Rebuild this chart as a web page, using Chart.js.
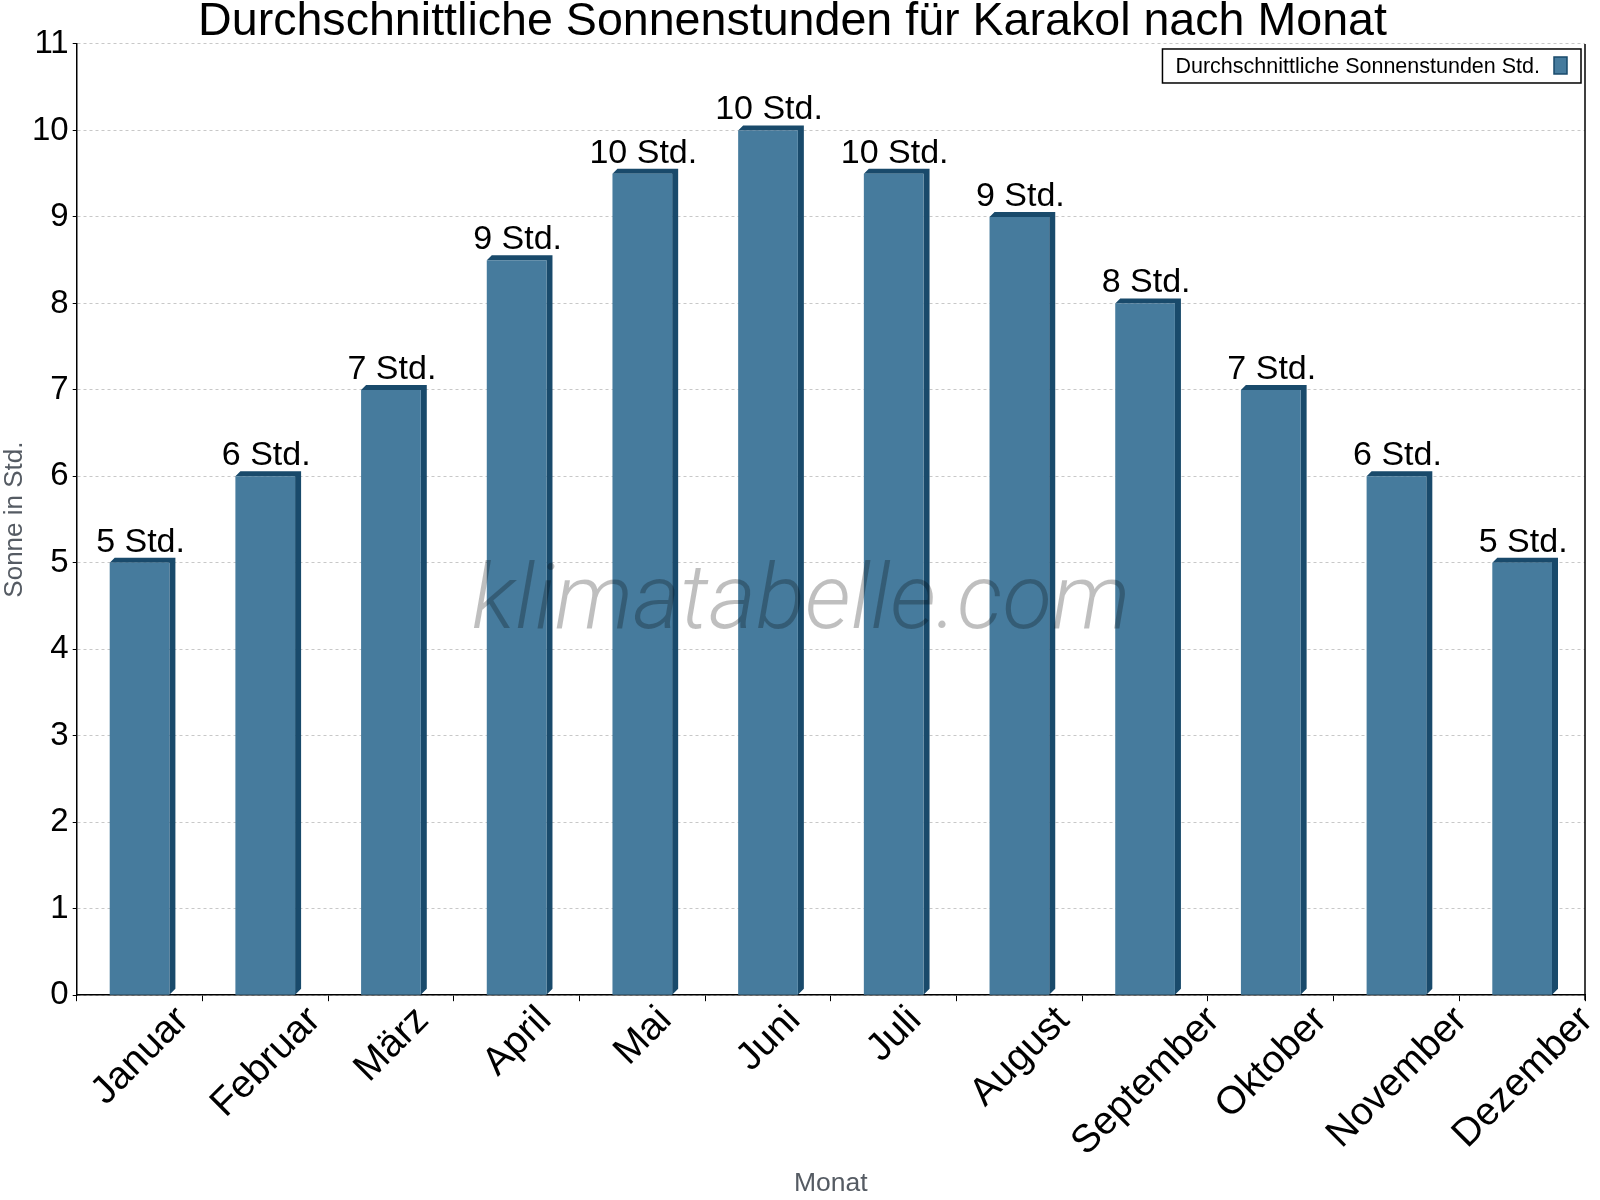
<!DOCTYPE html>
<html>
<head>
<meta charset="utf-8">
<title>Sonnenstunden Karakol</title>
<script src="https://cdn.jsdelivr.net/npm/chart.js@4.4.1/dist/chart.umd.min.js"></script>
<style>
    body { margin: 0; background: #ffffff; }
    canvas { display: block; }
</style>
</head>
<body>
<canvas id="sunChart" width="1600" height="1200"></canvas>
<script>
// Daten
const months = ["Januar", "Februar", "März", "April", "Mai", "Juni",
    "Juli", "August", "September", "Oktober", "November", "Dezember"];
const sunHours = [5, 6, 7, 8.5, 9.5, 10, 9.5, 9, 8, 7, 6, 5];
const yTicks = [0, 1, 2, 3, 4, 5, 6, 7, 8, 9, 10, 11];
const unitText = "Std.";
const seriesLabel = "Durchschnittliche Sonnenstunden Std.";
const chartTitle = "Durchschnittliche Sonnenstunden für Karakol nach Monat";
const watermarkText = "klimatabelle.com";

const FONT = "'Liberation Sans', Arial, sans-serif";
const barFront = "#467b9d";
const barDark = "#194a6b";
const axisGrey = "#555b63";

// 3D-Kante (oben + rechts) hinter jedem Balken
const barDepthPlugin = {
    id: "barDepth",
    beforeDatasetsDraw(chart) {
        const ctx = chart.ctx;
        const meta = chart.getDatasetMeta(0);
        ctx.save();
        ctx.fillStyle = barDark;
        meta.data.forEach(el => {
            const p = el.getProps(["x", "y", "base", "width"], true);
            const left = p.x - p.width / 2;
            const right = p.x + p.width / 2;
            ctx.beginPath();
            ctx.moveTo(left, p.y);
            ctx.lineTo(left + 5, p.y - 5);
            ctx.lineTo(right + 6, p.y - 5);
            ctx.lineTo(right + 6, p.base - 6);
            ctx.lineTo(right, p.base);
            ctx.lineTo(right, p.y);
            ctx.closePath();
            ctx.fill();
        });
        ctx.restore();
    },
    afterDatasetsDraw(chart) {
        const ctx = chart.ctx;
        const area = chart.chartArea;
        const meta = chart.getDatasetMeta(0);
        const xScale = chart.scales.x;

        ctx.save();

        // Wasserzeichen
        ctx.font = "italic 300 91px Roboto, 'Open Sans', sans-serif";
        ctx.fillStyle = "rgba(0, 0, 0, 0.25)";
        ctx.textAlign = "center";
        ctx.textBaseline = "alphabetic";
        ctx.fillText(watermarkText, chart.width / 2 + 1, 628);

        // Werte über den Balken
        ctx.font = "34px " + FONT;
        ctx.fillStyle = "#000000";
        meta.data.forEach((el, i) => {
            const p = el.getProps(["x", "y"], true);
            ctx.fillText(Math.round(sunHours[i]) + " " + unitText, p.x + 1, p.y - 11);
        });

        // Monatsnamen, gedreht und mittig unter dem Tick
        const labelSize = 39;
        ctx.font = labelSize + "px " + FONT;
        ctx.textBaseline = "middle";
        months.forEach((m, i) => {
            const x = xScale.getPixelForTick(i) + 1;
            const w = ctx.measureText(m).width;
            const h = 0.707 * (w + 0.72 * labelSize);
            const y = area.bottom + 9 + h / 2;
            ctx.save();
            ctx.translate(x, y);
            ctx.rotate(-Math.PI / 4);
            ctx.fillText(m, 0, 0);
            ctx.restore();
        });

        // rechte Achsenlinie
        ctx.strokeStyle = "#000000";
        ctx.lineWidth = 1.5;
        ctx.beginPath();
        ctx.moveTo(area.right, area.top);
        ctx.lineTo(area.right, area.bottom + 5);
        ctx.stroke();

        // Legende
        ctx.font = "21.5px " + FONT;
        ctx.textAlign = "right";
        ctx.textBaseline = "alphabetic";
        const boxRight = area.right - 4;
        const boxTop = area.top + 5;
        const swRight = boxRight - 14;
        const textRight = swRight - 13 - 14;
        const textW = ctx.measureText(seriesLabel).width;
        const boxLeft = textRight - textW - 13;
        ctx.fillStyle = "#ffffff";
        ctx.fillRect(boxLeft, boxTop, boxRight - boxLeft, 34);
        ctx.strokeRect(boxLeft, boxTop, boxRight - boxLeft, 34);
        ctx.fillStyle = "#000000";
        ctx.fillText(seriesLabel, textRight, boxTop + 24);
        ctx.fillStyle = barFront;
        ctx.fillRect(swRight - 13, boxTop + 8, 13, 17);
        ctx.strokeStyle = barDark;
        ctx.lineWidth = 1.5;
        ctx.strokeRect(swRight - 13, boxTop + 8, 13, 17);

        ctx.restore();
    }
};

new Chart(document.getElementById("sunChart"), {
    type: "bar",
    data: {
        labels: months,
        datasets: [{
            label: seriesLabel,
            data: sunHours,
            backgroundColor: barFront,
            borderWidth: 0,
            categoryPercentage: 1.0,
            barPercentage: 0.475
        }]
    },
    options: {
        responsive: false,
        animation: false,
        devicePixelRatio: 1,
        layout: {
            padding: { left: 0, right: 15, top: 0, bottom: 0 }
        },
        plugins: {
            legend: { display: false },
            tooltip: { enabled: false },
            title: {
                display: true,
                text: chartTitle,
                color: "#000000",
                font: { family: FONT, size: 46.6, weight: "normal", lineHeight: 0.944 },
                padding: { top: 0, bottom: 0 }
            }
        },
        scales: {
            x: {
                grid: {
                    display: true,
                    offset: true,
                    drawOnChartArea: false,
                    color: "#000000",
                    tickColor: "#000000",
                    tickLength: 6,
                    lineWidth: 1
                },
                border: { display: true, color: "#000000", width: 1.5 },
                ticks: { display: false },
                title: {
                    display: true,
                    text: "Monat",
                    color: axisGrey,
                    font: { family: FONT, size: 26.5, lineHeight: 1.2 },
                    padding: { top: 167, bottom: 0 }
                }
            },
            y: {
                min: 0,
                max: 11,
                afterBuildTicks: axis => {
                    axis.ticks = yTicks.map(v => ({ value: v }));
                },
                grid: {
                    color: "#c8c8c8",
                    lineWidth: 1,
                    tickColor: "#000000",
                    tickLength: 4,
                    tickBorderDash: []
                },
                border: { display: true, color: "#000000", width: 1.5, dash: [3, 3] },
                ticks: {
                    color: "#000000",
                    font: { family: FONT, size: 33 },
                    padding: 4
                },
                title: {
                    display: true,
                    text: "Sonne in Std.",
                    color: axisGrey,
                    font: { family: FONT, size: 26, lineHeight: 1.0 },
                    padding: { top: 2, bottom: 0 }
                }
            }
        }
    },
    plugins: [barDepthPlugin]
});
</script>
</body>
</html>
